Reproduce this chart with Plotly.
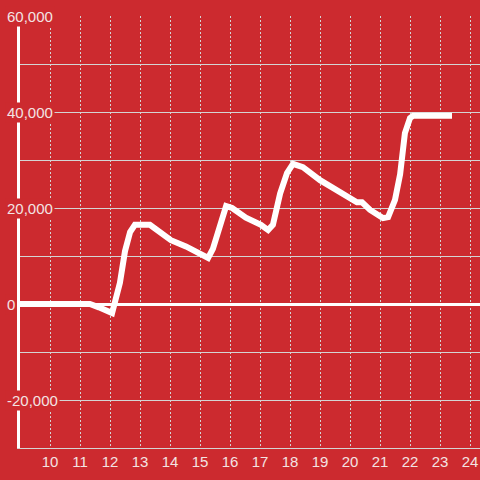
import plotly.graph_objects as go

# data
hours = [9.0, 11.33, 11.63, 12.07, 12.33, 12.5, 12.67, 12.83, 13.33, 14.03, 14.53, 15.03,
         15.27, 15.43, 15.87, 16.07, 16.53, 17.03, 17.27, 17.43, 17.67, 17.9, 18.1, 18.43,
         19.0, 19.43, 19.9, 20.23, 20.4, 20.67, 21.1, 21.27, 21.5, 21.67, 21.83, 22.0,
         22.1, 23.4]
values = [0, 0, -700, -1900, 4400, 11000, 15000, 16500, 16500, 13300, 12000, 10600,
          9600, 11500, 20400, 20000, 18000, 16500, 15400, 16500, 23000, 27300, 29200, 28500,
          25800, 24200, 22300, 21200, 21200, 19600, 17900, 18100, 21700, 27000, 35600, 38750,
          39200, 39200]

x_ticks = list(range(10, 25))
x_labels = [str(v) for v in x_ticks]
y_grid = [-30000, -20000, -10000, 0, 10000, 20000, 30000, 40000, 50000, 60000]
y_ticks = [-20000, 0, 20000, 40000, 60000]
y_labels = ["-20,000", "0", "20,000", "40,000", "60,000"]

BG = "#cc2a2f"
GRID = "#d4d4d4"
TXT = "#f3e3e3"
FONT = "Liberation Sans, Arial, sans-serif"

fig = go.Figure()
fig.add_trace(go.Scatter(
    x=hours, y=values, mode="lines",
    line=dict(color="white", width=6),
    hoverinfo="skip", showlegend=False,
))

# y tick labels drawn on a background box that hides the axis / grid lines behind them
for v, lab in zip(y_ticks, y_labels):
    fig.add_annotation(
        x=0, xref="paper", xanchor="left", xshift=-15,
        y=v, yref="y", yanchor="middle",
        text=lab, showarrow=False, bgcolor=BG, borderpad=1,
        font=dict(family=FONT, size=15, color=TXT),
    )

fig.update_layout(
    width=480, height=480,
    margin=dict(l=20, r=0, t=16, b=32),
    paper_bgcolor=BG, plot_bgcolor=BG,
    font=dict(family=FONT, size=15, color=TXT),
    showlegend=False,
    xaxis=dict(
        range=[9, 24.333],
        tickmode="array", tickvals=x_ticks, ticktext=x_labels,
        showgrid=True, gridcolor=GRID, gridwidth=1, griddash="2px,2px",
        showline=True, linecolor=GRID, linewidth=1,
        zeroline=False, ticks="",
        tickfont=dict(family=FONT, size=15, color=TXT),
    ),
    yaxis=dict(
        range=[-30000, 60000],
        tickmode="array", tickvals=y_grid, showticklabels=False,
        showgrid=True, gridcolor=GRID, gridwidth=1,
        zeroline=True, zerolinecolor="white", zerolinewidth=3,
        showline=True, linecolor="white", linewidth=3,
        ticks="",
    ),
)

fig.write_html("out.html", config={"displayModeBar": False},
               post_script="document.body.style.margin='0px';")
